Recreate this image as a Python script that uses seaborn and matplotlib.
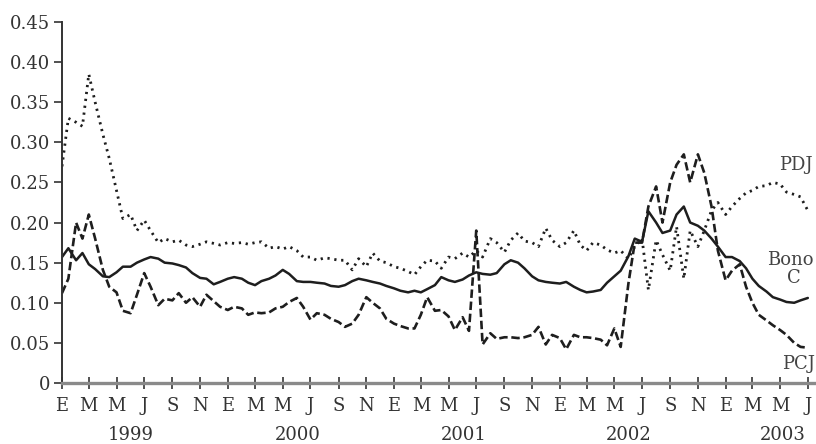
import pandas as pd
import matplotlib
matplotlib.use('Agg')
import matplotlib.pyplot as plt
import matplotlib.dates as mdates
import matplotlib.transforms as mtransforms
from matplotlib.ticker import FuncFormatter, MultipleLocator
import seaborn as sns

# semimonthly observations, Jan 1999 - Jul 2003
dates = pd.date_range('1999-01-01', '2003-07-01', freq='SMS')

pdj = [0.27, 0.33, 0.325, 0.32, 0.385, 0.35, 0.31, 0.28, 0.24, 0.205,
       0.21, 0.19, 0.203, 0.19, 0.175, 0.18, 0.176, 0.178, 0.172, 0.17,
       0.173, 0.176, 0.174, 0.172, 0.175, 0.174, 0.175, 0.173, 0.175, 0.176,
       0.168, 0.17, 0.167, 0.17, 0.165, 0.157, 0.157, 0.153, 0.156, 0.155,
       0.153, 0.153, 0.141, 0.155, 0.145, 0.162, 0.152, 0.15, 0.145, 0.143,
       0.139, 0.135, 0.145, 0.153, 0.152, 0.143, 0.157, 0.155, 0.162, 0.157,
       0.165, 0.157, 0.18, 0.175, 0.163, 0.178, 0.187, 0.177, 0.175, 0.17,
       0.193, 0.178, 0.17, 0.175, 0.19, 0.172, 0.165, 0.175, 0.172, 0.166,
       0.162, 0.165, 0.155, 0.17, 0.18, 0.116, 0.178, 0.16, 0.14, 0.195,
       0.13, 0.19, 0.17, 0.19, 0.215, 0.225, 0.21, 0.22, 0.23, 0.237,
       0.24, 0.245, 0.246, 0.25, 0.248, 0.238, 0.235, 0.232, 0.215]

bono_c = [0.157, 0.168, 0.153, 0.162, 0.148, 0.142, 0.133, 0.132, 0.138, 0.145,
          0.145, 0.15, 0.154, 0.157, 0.155, 0.15, 0.149, 0.147, 0.144, 0.137,
          0.131, 0.13, 0.123, 0.126, 0.13, 0.132, 0.13, 0.125, 0.122, 0.127,
          0.13, 0.134, 0.141, 0.136, 0.127, 0.126, 0.126, 0.125, 0.124, 0.121,
          0.12, 0.122, 0.127, 0.13, 0.128, 0.126, 0.124, 0.121, 0.118, 0.115,
          0.113, 0.115, 0.113, 0.117, 0.122, 0.132, 0.128, 0.126, 0.129, 0.134,
          0.138, 0.136, 0.135, 0.137, 0.148, 0.153, 0.15, 0.143, 0.133, 0.128,
          0.126, 0.125, 0.124, 0.126, 0.12, 0.116, 0.113, 0.114, 0.116, 0.125,
          0.133, 0.14, 0.158, 0.18, 0.176, 0.214, 0.2, 0.187, 0.19, 0.21,
          0.22, 0.2, 0.196, 0.19, 0.18, 0.17, 0.157, 0.157, 0.152, 0.143,
          0.13, 0.121, 0.114, 0.107, 0.104, 0.101, 0.1, 0.103, 0.106]

pcj = [0.112, 0.13, 0.2, 0.18, 0.21, 0.18, 0.141, 0.12, 0.113, 0.09,
       0.087, 0.11, 0.137, 0.12, 0.097, 0.105, 0.103, 0.112, 0.1, 0.107,
       0.095, 0.11, 0.102, 0.095, 0.091, 0.095, 0.093, 0.085, 0.088, 0.087,
       0.088, 0.093, 0.095, 0.101, 0.106, 0.095, 0.079, 0.087, 0.085, 0.08,
       0.076, 0.07, 0.074, 0.085, 0.107, 0.1, 0.093, 0.08, 0.074, 0.071,
       0.068, 0.068, 0.085, 0.107, 0.09, 0.091, 0.083, 0.066, 0.082, 0.065,
       0.19, 0.048, 0.062, 0.055, 0.057, 0.057, 0.056, 0.057, 0.06, 0.07,
       0.048, 0.06, 0.056, 0.042, 0.06, 0.057, 0.057, 0.056, 0.054, 0.047,
       0.068, 0.045, 0.124, 0.175, 0.175, 0.22, 0.245, 0.2, 0.25, 0.272,
       0.285, 0.25, 0.285, 0.262, 0.22, 0.165, 0.128, 0.14, 0.148, 0.12,
       0.1, 0.085, 0.078, 0.072, 0.066, 0.06, 0.05, 0.045, 0.044]

month_letters = {1: 'E', 3: 'M', 5: 'M', 7: 'J', 9: 'S', 11: 'N'}
years = ['1999', '2000', '2001', '2002', '2003']
year_pos = ['1999-06-01', '2000-06-03', '2001-06-03', '2002-06-01', '2003-05-06']

sns.set_style('ticks')
plt.rcParams['font.family'] = ['DejaVu Serif']

fig = plt.figure(figsize=(8.16, 4.44), dpi=100)
ax = fig.add_axes([62 / 816, 61 / 444, 754 / 816, 361 / 444])

line_col = '#1e1e1e'
sns.lineplot(x=dates, y=pdj, ax=ax, color=line_col, lw=2.0, linestyle=(0, (0.8, 1.7)))
sns.lineplot(x=dates, y=bono_c, ax=ax, color=line_col, lw=1.8, linestyle='-')
sns.lineplot(x=dates, y=pcj, ax=ax, color=line_col, lw=1.9, linestyle=(0, (3.2, 1.4)))

ax.set_ylim(0, 0.45)
ax.set_xlim(pd.Timestamp('1999-01-01'), pd.Timestamp('2003-07-19'))
ax.yaxis.set_major_locator(MultipleLocator(0.05))
ax.yaxis.set_major_formatter(FuncFormatter(lambda v, p: '0' if v == 0 else f'{v:.2f}'))

ax.xaxis.set_major_locator(mdates.MonthLocator(bymonth=[1, 3, 5, 7, 9, 11]))
ax.xaxis.set_major_formatter(FuncFormatter(lambda v, p: month_letters[mdates.num2date(v).month]))

ax.tick_params(axis='y', direction='out', length=5.5, width=1.2, labelsize=13,
               colors='#333333', pad=3)
ax.tick_params(axis='x', direction='inout', length=8, width=1.2, labelsize=13,
               colors='#333333', pad=6)

sns.despine(ax=ax, top=True, right=True)
ax.spines['left'].set_color('#333333')
ax.spines['left'].set_linewidth(1.4)
ax.spines['bottom'].set_color('#8a8a8a')
ax.spines['bottom'].set_linewidth(2.4)
ax.set_xlabel('')
ax.set_ylabel('')

# year labels under the month letters
trans = mtransforms.blended_transform_factory(ax.transData, fig.transFigure)
for yr, pos in zip(years, year_pos):
    ax.text(pd.Timestamp(pos), 9 / 444, yr, transform=trans, ha='center', va='center',
            fontsize=13, color='#333333')

# series labels
lab_col = '#444444'
ax.text(pd.Timestamp('2003-06-04'), 0.272, 'PDJ', ha='center', va='center', fontsize=13, color=lab_col)
ax.text(pd.Timestamp('2003-05-24'), 0.153, 'Bono', ha='center', va='center', fontsize=13, color=lab_col)
ax.text(pd.Timestamp('2003-06-01'), 0.131, 'C', ha='center', va='center', fontsize=13, color=lab_col)
ax.text(pd.Timestamp('2003-06-10'), 0.024, 'PCJ', ha='center', va='center', fontsize=13, color=lab_col)

fig.savefig('out.png', dpi=100, facecolor='white')
